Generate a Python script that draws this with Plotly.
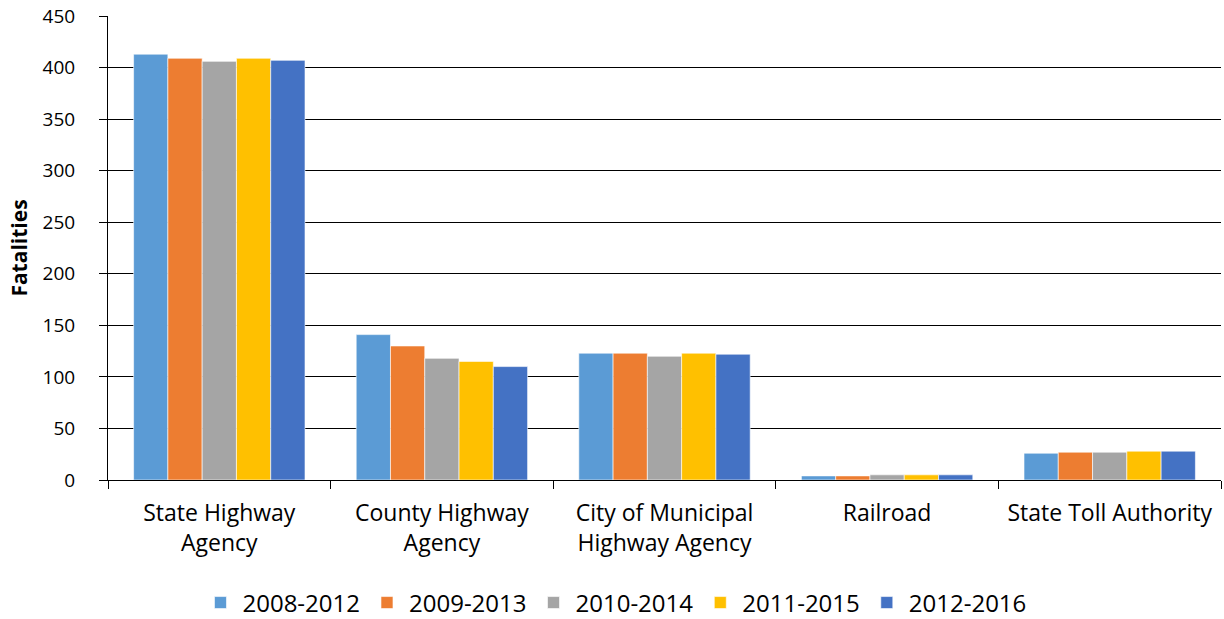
import plotly.graph_objects as go

categories = ["State Highway<br>Agency", "County Highway<br>Agency",
              "City of Municipal<br>Highway Agency", "Railroad", "State Toll Authority"]
periods = ["2008-2012", "2009-2013", "2010-2014", "2011-2015", "2012-2016"]

fat_2008_2012 = [413, 141, 123, 4, 26]
fat_2009_2013 = [409, 130, 123, 4, 27]
fat_2010_2014 = [406, 118, 120, 5, 27]
fat_2011_2015 = [409, 115, 123, 5, 28]
fat_2012_2016 = [407, 110, 122, 5, 28]

series = [fat_2008_2012, fat_2009_2013, fat_2010_2014, fat_2011_2015, fat_2012_2016]
colors = ["#5B9BD5", "#ED7D31", "#A5A5A5", "#FFC000", "#4472C4"]

font_family = "'Open Sans', sans-serif"

fig = go.Figure()
for name, vals, col in zip(periods, series, colors):
    fig.add_trace(go.Bar(
        name=name, x=categories, y=vals,
        marker=dict(color=col, line=dict(color="rgba(255,255,255,0.6)", width=1)),
    ))

fig.update_layout(
    width=1224, height=619,
    margin=dict(l=108, r=3, t=16, b=139, autoexpand=False),
    paper_bgcolor="white", plot_bgcolor="white",
    barmode="group", bargap=0.23, bargroupgap=0,
    font=dict(family=font_family, size=20, color="black"),
    showlegend=True,
    legend=dict(orientation="h", x=0.4555, xanchor="center", y=-0.265, yanchor="middle",
                font=dict(size=24), itemwidth=34, traceorder="normal"),
    xaxis=dict(
        type="category", showline=True, linecolor="black", linewidth=1,
        ticks="outside", tickson="boundaries", ticklen=8, tickcolor="black",
        tickfont=dict(size=23), tickangle=0, ticklabelstandoff=12, showgrid=False,
    ),
    yaxis=dict(
        range=[0, 450], dtick=50, showline=True, linecolor="black", linewidth=1,
        ticks="outside", ticklen=8, tickcolor="black",
        showgrid=True, gridcolor="black", gridwidth=1,
        tickfont=dict(size=19), ticklabelstandoff=20,
        title=dict(text="<b>Fatalities</b>", font=dict(size=21), standoff=9),
        zeroline=False,
    ),
)

fig.write_html("out.html")
